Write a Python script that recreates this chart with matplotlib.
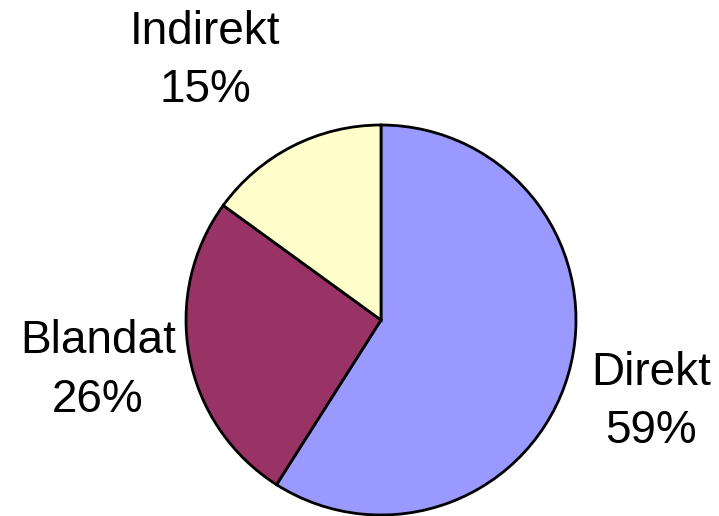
import matplotlib
matplotlib.use('Agg')
import matplotlib.pyplot as plt

# Andel per kategori
labels = ['Direkt', 'Blandat', 'Indirekt']
values = [59, 26, 15]
colors = ['#9999FF', '#993366', '#FFFFCC']

plt.rcParams['font.family'] = ['Liberation Sans', 'DejaVu Sans']

fig = plt.figure(figsize=(7.19, 5.16), dpi=100)
ax = fig.add_axes([0, 0, 1, 1])

ax.pie(values, colors=colors, startangle=90, counterclock=False,
       center=(381, 516 - 320), radius=195, frame=True,
       wedgeprops=dict(edgecolor='black', linewidth=2))
ax.set_xlim(0, 719)
ax.set_ylim(0, 516)
ax.set_aspect('equal')
ax.axis('off')

# etiketter: x-mitt och baslinjer (pixel från toppen) för namn och procent
label_pos = [(651, 385, 443), (98, 353, 412), (205, 44, 102)]
for name, val, (x, y1, y2) in zip(labels, values, label_pos):
    ax.text(x, 516 - y1, name, ha='center', va='baseline', fontsize=33)
    ax.text(x, 516 - y2, f'{val}%', ha='center', va='baseline', fontsize=33)

fig.savefig('out.png', dpi=100)
